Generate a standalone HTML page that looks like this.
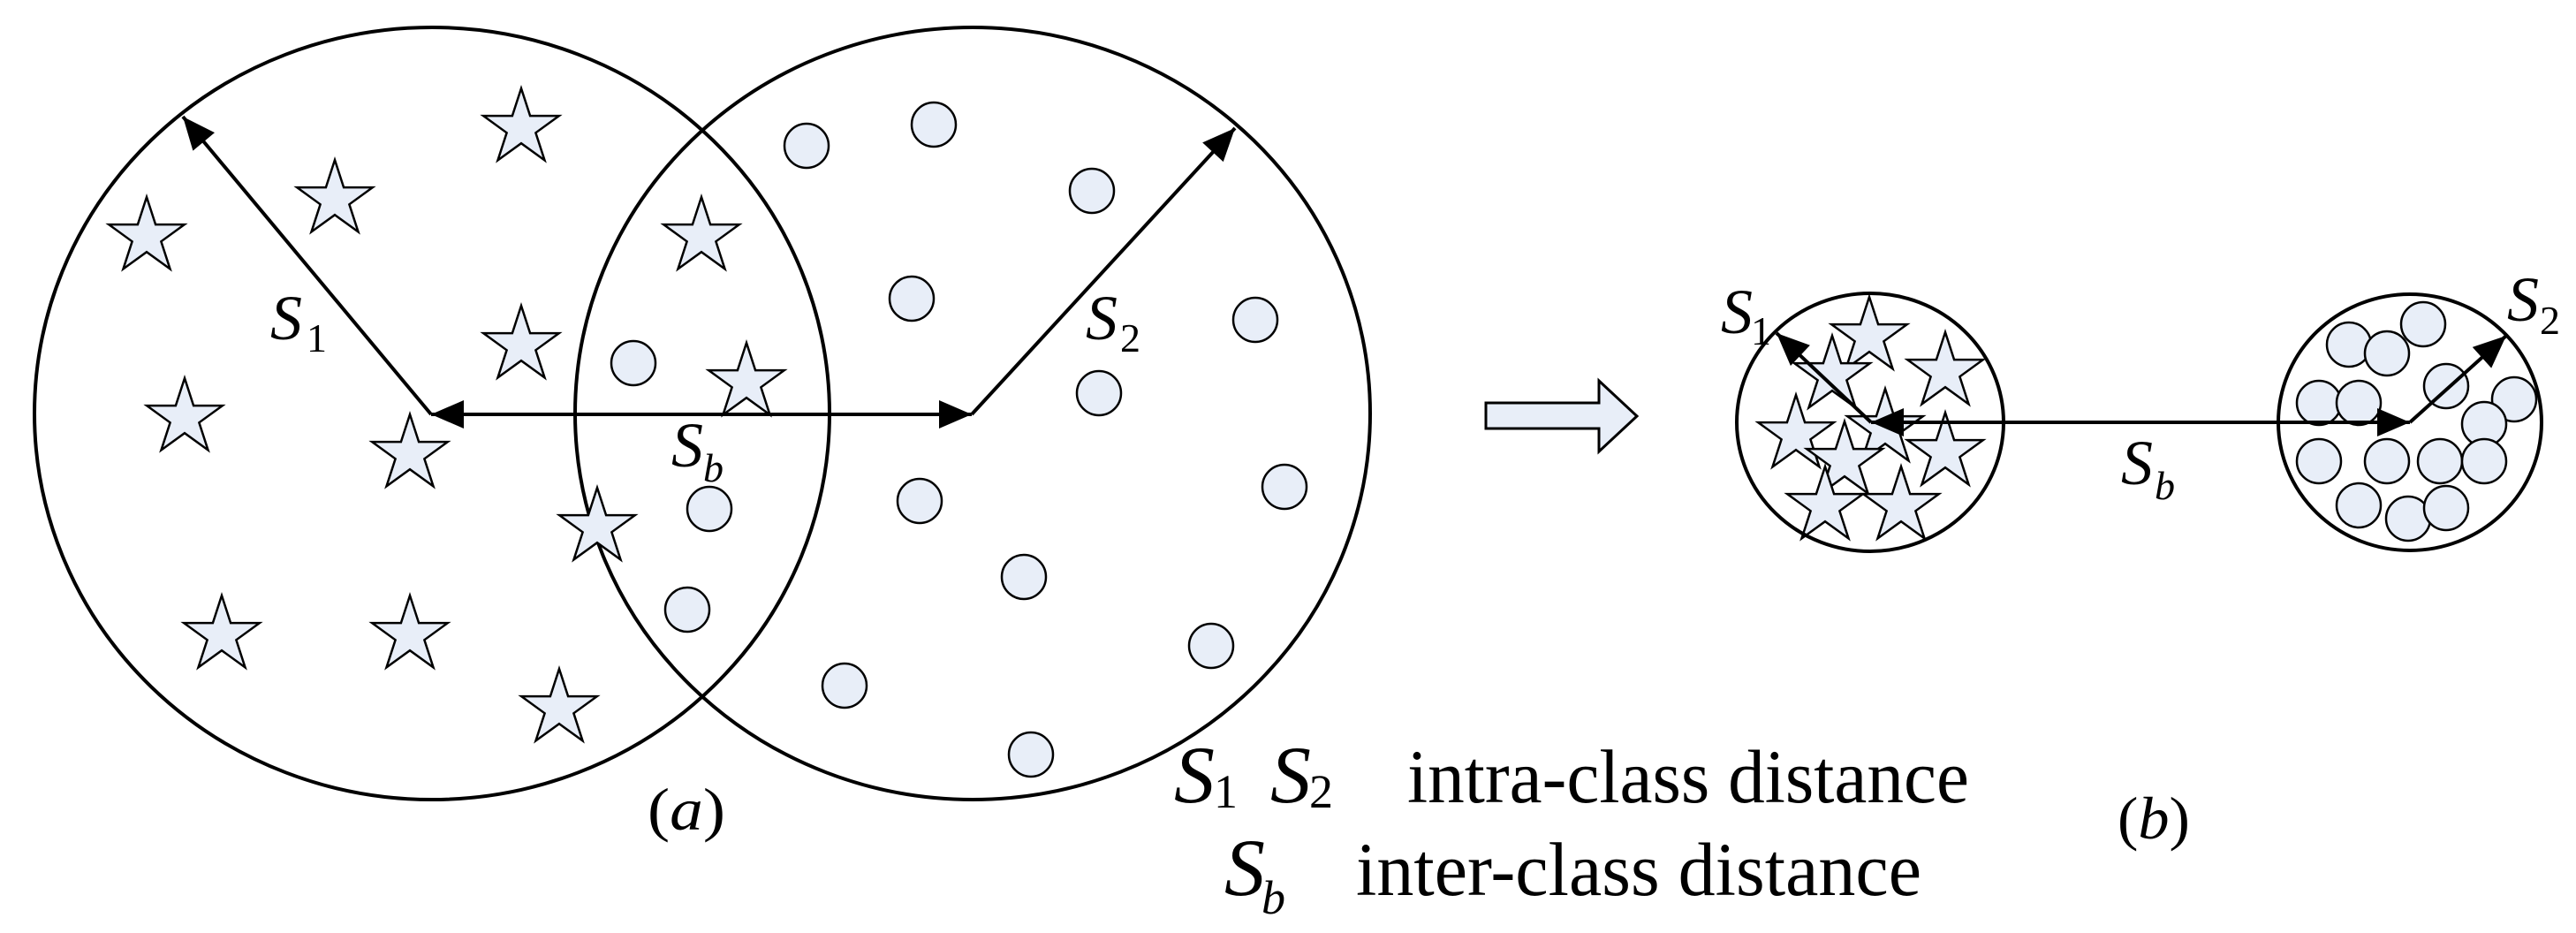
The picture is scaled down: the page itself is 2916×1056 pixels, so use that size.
<!DOCTYPE html>
<html><head><meta charset="utf-8"><style>html,body{margin:0;padding:0;background:#fff}svg{display:block}text,tspan{font-family:"Liberation Serif","DejaVu Serif","Times New Roman",Times,serif}</style></head>
<body>
<svg width="2916" height="1056" viewBox="0 0 2916 1056" xmlns="http://www.w3.org/2000/svg" font-family="'Liberation Serif', 'DejaVu Serif', serif">
<defs>
<polygon id="st" points="0,-41 10.1,-9.9 42.8,-9.9 16.4,9.3 26.5,40.4 0,21.2 -26.5,40.4 -16.4,9.3 -42.8,-9.9 -10.1,-9.9" fill="#e8eef8" stroke="#000" stroke-width="2.5" stroke-linejoin="miter"/>
<circle id="dt" r="25" fill="#e8eef8" stroke="#000" stroke-width="2.5"/>
<marker id="ah" markerWidth="10" markerHeight="8" refX="9" refY="4" orient="auto" markerUnits="userSpaceOnUse" viewBox="0 0 10 8" style="overflow:visible">
<path d="M-28,-12 L9,4 L-28,20 Z" fill="#000"/>
</marker>
</defs>
<g fill="none" stroke="#000" stroke-width="4">
<ellipse cx="489" cy="468" rx="450" ry="437"/>
<ellipse cx="1101" cy="468" rx="450" ry="437"/>
</g>
<use href="#st" x="590" y="141"/><use href="#st" x="379" y="222"/><use href="#st" x="166" y="264"/>
<use href="#st" x="794" y="264"/><use href="#st" x="590" y="387"/><use href="#st" x="845" y="429"/>
<use href="#st" x="209" y="469"/><use href="#st" x="464" y="510"/><use href="#st" x="676" y="593"/>
<use href="#st" x="251" y="715"/><use href="#st" x="464" y="715"/><use href="#st" x="633" y="798"/>
<use href="#dt" x="913" y="165"/><use href="#dt" x="1057" y="141"/><use href="#dt" x="1236" y="216"/>
<use href="#dt" x="1032" y="338"/><use href="#dt" x="1421" y="362"/><use href="#dt" x="717" y="411"/>
<use href="#dt" x="1244" y="445"/><use href="#dt" x="803" y="576"/><use href="#dt" x="1041" y="567"/>
<use href="#dt" x="1454" y="551"/><use href="#dt" x="1159" y="653"/><use href="#dt" x="778" y="690"/>
<use href="#dt" x="1371" y="731"/><use href="#dt" x="956" y="776"/><use href="#dt" x="1167" y="854"/>
<g stroke="#000" stroke-width="4" fill="none">
<line x1="488" y1="469" x2="207" y2="132" marker-end="url(#ah)"/>
<line x1="540" y1="469" x2="488" y2="469" marker-end="url(#ah)"/>
<line x1="520" y1="469" x2="1100" y2="469" marker-end="url(#ah)"/>
<line x1="1100" y1="469" x2="1398" y2="145" marker-end="url(#ah)"/>
</g>
<g font-style="italic" font-size="72">
<text x="306" y="384">S</text><text x="760" y="528">S</text><text x="1229" y="384">S</text>
</g>
<g font-size="46"><text x="347" y="398">1</text><text x="1268" y="398">2</text><text x="796" y="545" font-style="italic">b</text></g>
<text x="733" y="939" font-size="68" textLength="88" lengthAdjust="spacingAndGlyphs">(<tspan font-style="italic">a</tspan>)</text>
<polygon points="1682,456 1810,456 1810,431 1853,471 1810,511 1810,485 1682,485" fill="#e8eef8" stroke="#000" stroke-width="3"/>
<use href="#st" x="2116" y="377"/><use href="#st" x="2202" y="417"/><use href="#st" x="2074" y="421"/>
<use href="#st" x="2033" y="488"/><use href="#st" x="2134" y="481"/><use href="#st" x="2202" y="508"/>
<use href="#st" x="2088" y="518"/><use href="#st" x="2066" y="569"/><use href="#st" x="2152" y="569"/>
<use href="#dt" x="2659" y="390"/><use href="#dt" x="2702" y="400"/><use href="#dt" x="2743" y="367"/>
<use href="#dt" x="2625" y="456"/><use href="#dt" x="2670" y="456"/><use href="#dt" x="2769" y="437"/>
<use href="#dt" x="2846" y="452"/><use href="#dt" x="2812" y="480"/><use href="#dt" x="2625" y="522"/>
<use href="#dt" x="2702" y="522"/><use href="#dt" x="2762" y="522"/><use href="#dt" x="2812" y="522"/>
<use href="#dt" x="2670" y="572"/><use href="#dt" x="2726" y="587"/><use href="#dt" x="2769" y="575"/>
<g fill="none" stroke="#000" stroke-width="4">
<ellipse cx="2117" cy="478" rx="151" ry="146"/>
<ellipse cx="2728" cy="478" rx="149" ry="145"/>
<line x1="2118" y1="478" x2="2011" y2="377" marker-end="url(#ah)"/>
<line x1="2160" y1="478" x2="2118" y2="478" marker-end="url(#ah)"/>
<line x1="2140" y1="478" x2="2728" y2="478" marker-end="url(#ah)"/>
<line x1="2728" y1="478" x2="2837" y2="380" marker-end="url(#ah)"/>
</g>
<g font-style="italic" font-size="72">
<text x="1948" y="377">S</text><text x="2838" y="363">S</text><text x="2401" y="548">S</text>
</g>
<g font-size="46"><text x="1982" y="390">1</text><text x="2875" y="378">2</text><text x="2439" y="565" font-style="italic">b</text></g>
<text x="2397" y="949" font-size="68" textLength="82" lengthAdjust="spacingAndGlyphs">(<tspan font-style="italic">b</tspan>)</text>
<g font-style="italic" font-size="92">
<text x="1329" y="908">S</text>
<text x="1438" y="908">S</text>
<text x="1386" y="1013">S</text>
</g>
<g font-size="54">
<text x="1374" y="914">1</text>
<text x="1482" y="914">2</text>
<text x="1428" y="1034" font-style="italic">b</text>
</g>
<g font-size="86">
<text x="1593" y="908" textLength="636" lengthAdjust="spacingAndGlyphs">intra-class distance</text>
<text x="1535" y="1013" textLength="640" lengthAdjust="spacingAndGlyphs">inter-class distance</text>
</g>
</svg>
</body></html>
